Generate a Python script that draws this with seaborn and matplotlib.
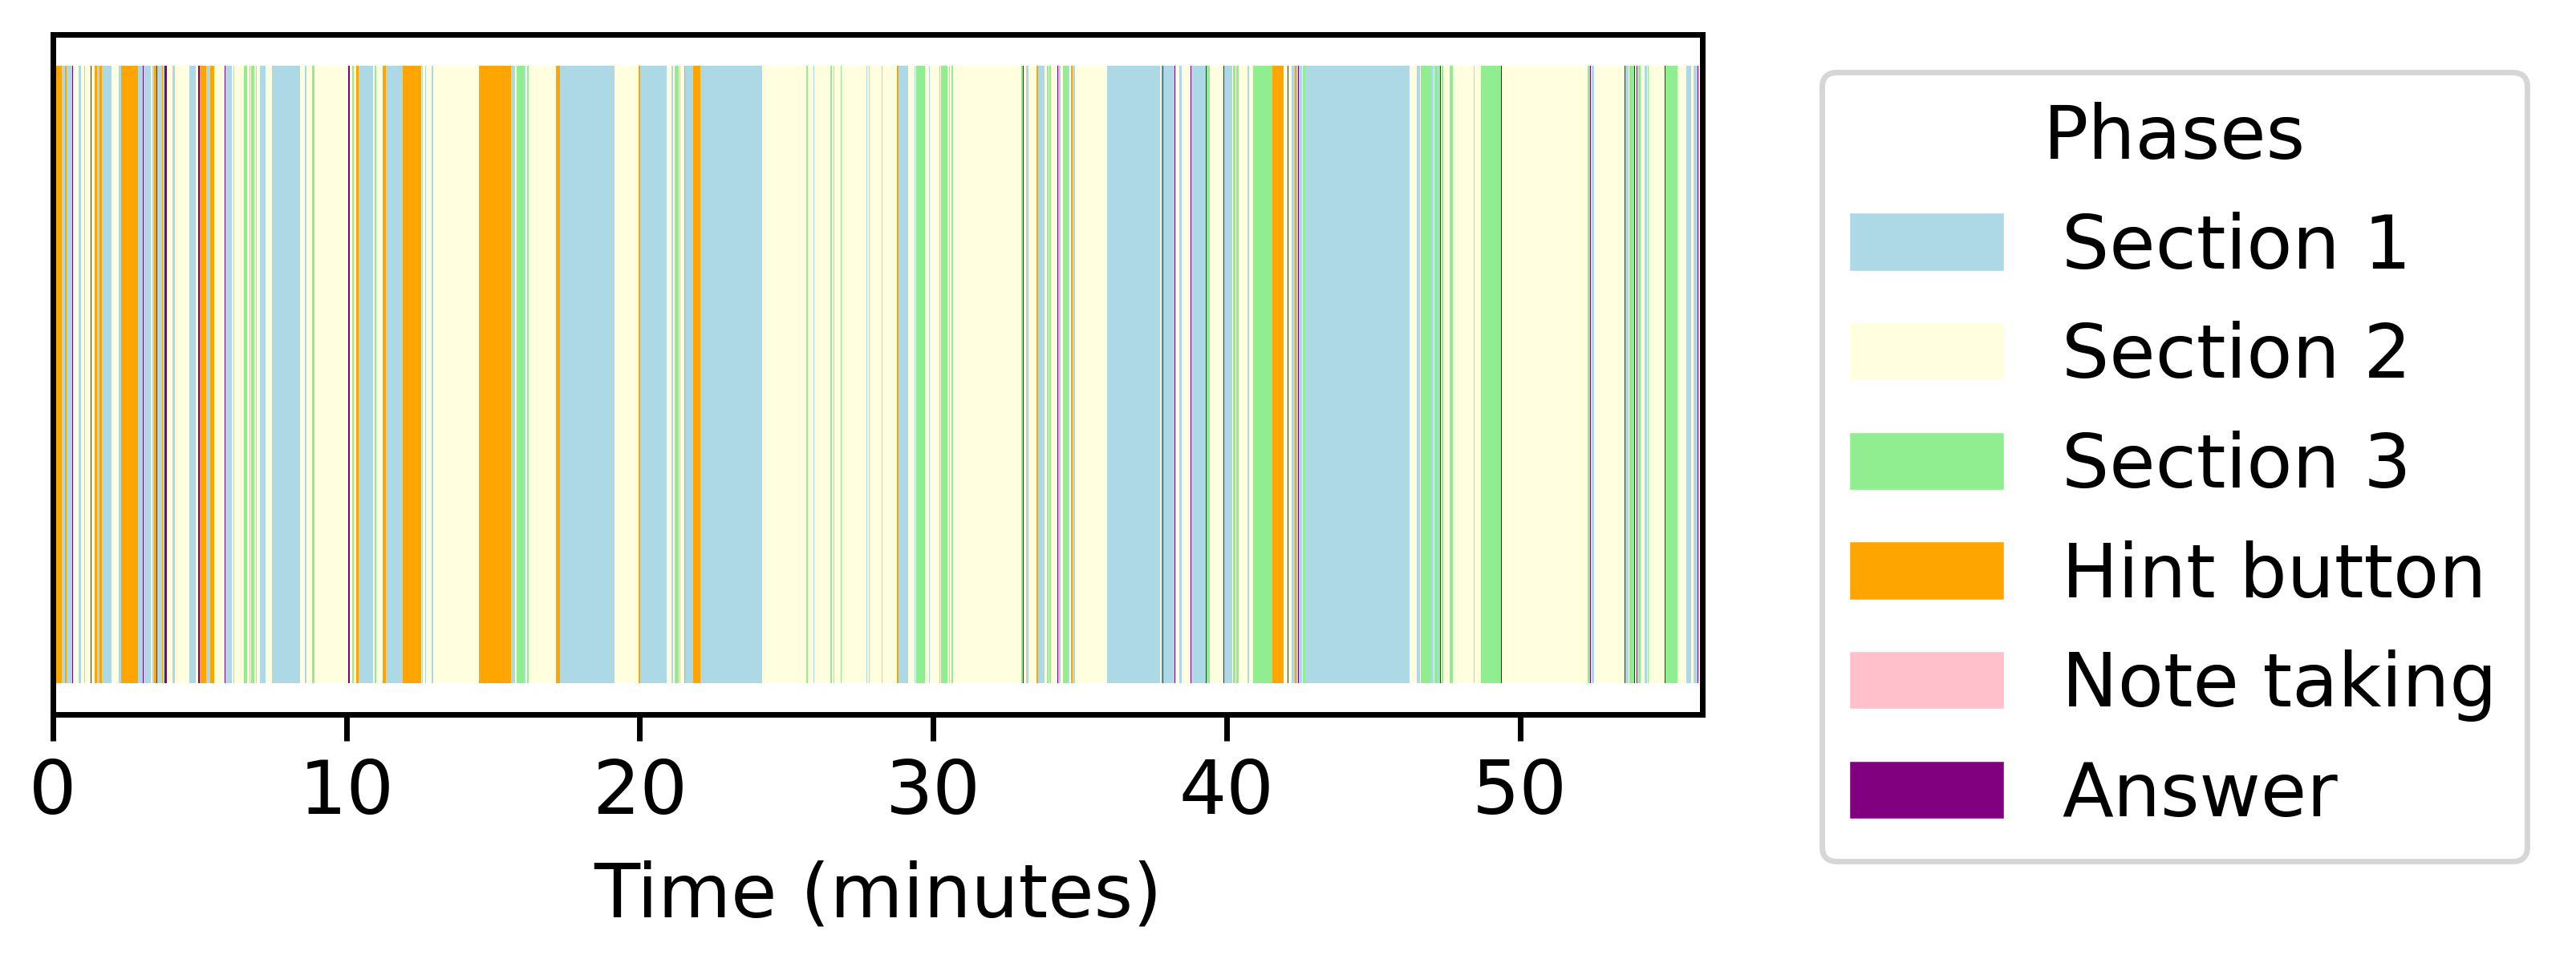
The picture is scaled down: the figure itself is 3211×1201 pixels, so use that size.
import matplotlib
matplotlib.use("Agg")
import matplotlib.pyplot as plt
import matplotlib.patches as mpatches
import numpy as np
import seaborn as sns

# phase legend order, labels and colours
PHASE_CODES = ['S1', 'S2', 'S3', 'H', 'N', 'A']
PHASE_LABELS = ['Section 1', 'Section 2', 'Section 3', 'Hint button', 'Note taking', 'Answer']
PHASE_COLORS = ['lightblue', 'lightyellow', 'lightgreen', 'orange', 'pink', 'purple']

# sequence of visited phases, in order
phase_seq = [
    'H', 'S1', 'H', 'S1', 'A', 'S2', 'S1', 'S2', 'S1', 'S2',
    'A', 'S2', 'H', 'S1', 'H', 'S1', 'S2', 'S1', 'H', 'S1',
    'A', 'S1', 'S2', 'S1', 'H', 'A', 'S1', 'H', 'S1', 'A',
    'S2', 'S1', 'S2', 'S1', 'S2', 'A', 'H', 'S1', 'H', 'S2',
    'A', 'S1', 'S2', 'S1', 'S2', 'S3', 'S2', 'S3', 'S2', 'S3',
    'S2', 'S1', 'S2', 'S1', 'S2', 'S1', 'S2', 'S1', 'S2', 'S3',
    'S2', 'A', 'S2', 'S3', 'S2', 'H', 'S1', 'S2', 'S3', 'S2',
    'H', 'S1', 'H', 'S2', 'S1', 'S2', 'S1', 'S2', 'S1', 'S2',
    'H', 'S1', 'S2', 'S3', 'S1', 'S2', 'S3', 'S2', 'H', 'S1',
    'S2', 'H', 'S1', 'S2', 'S1', 'S2', 'S3', 'S2', 'S1', 'S2',
    'H', 'S1', 'H', 'S1', 'S2', 'S3', 'S2', 'S1', 'S2', 'S3',
    'S2', 'S1', 'S2', 'S3', 'S2', 'S1', 'S2', 'S1', 'S2', 'S1',
    'S2', 'H', 'S1', 'S2', 'S1', 'S2', 'S3', 'S2', 'S1', 'S2',
    'S3', 'S2', 'S3', 'S2', 'S1', 'S2', 'S3', 'S2', 'S3', 'A',
    'S2', 'S1', 'S2', 'H', 'S1', 'S2', 'S3', 'S2', 'S3', 'S2',
    'A', 'S1', 'S2', 'S3', 'S1', 'S2', 'H', 'S1', 'S2', 'S1',
    'S2', 'S1', 'A', 'S1', 'A', 'S2', 'S1', 'S2', 'A', 'S1',
    'A', 'S3', 'S2', 'A', 'S1', 'S2', 'S3', 'S2', 'S3', 'S2',
    'S1', 'S2', 'S3', 'H', 'S2', 'A', 'S2', 'S1', 'H', 'S1',
    'A', 'S1', 'S2', 'S3', 'S1', 'S2', 'S1', 'S2', 'S3', 'S1',
    'S2', 'S3', 'S1', 'S3', 'A', 'S2', 'S3', 'S2', 'S3', 'S2',
    'S1', 'S2', 'S3', 'A', 'S2', 'S3', 'A', 'S2', 'S1', 'S2',
    'A', 'S1', 'S2', 'S3', 'A', 'S2', 'A', 'S2', 'S3', 'S2',
    'S1', 'S2', 'S3', 'S2', 'A', 'S3', 'S2', 'S1', 'S2', 'S1',
    'A', 'S2', 'S3',
]

# duration of each visit (seconds)
duration_sec = [
    18.1, 7.1, 3.3, 11.5, 1.6, 11.5, 4.9, 6.6, 1.6, 10.4,
    2.3, 7.1, 4.9, 4.9, 4.9, 19.8, 14.8, 4.4, 33.4, 9.9,
    1.6, 14.8, 3.3, 4.4, 3.8, 1.6, 9.9, 1.6, 4.4, 4.3,
    12.2, 4.9, 29.6, 12.0, 4.9, 3.3, 13.2, 8.2, 8.2, 21.4,
    1.6, 13.7, 2.8, 1.6, 19.8, 6.6, 4.9, 1.6, 1.6, 6.6,
    3.3, 1.6, 6.6, 11.5, 13.2, 57.6, 9.9, 3.3, 11.5, 4.9,
    69.1, 3.3, 4.9, 3.3, 4.9, 4.9, 29.6, 3.3, 3.3, 13.2,
    6.6, 34.6, 37.9, 1.6, 1.6, 4.9, 1.6, 11.5, 3.3, 92.2,
    65.8, 8.2, 3.3, 14.8, 3.3, 3.3, 3.3, 56.0, 8.2, 111.9,
    49.4, 3.3, 54.3, 9.9, 3.3, 3.3, 8.2, 1.6, 1.6, 8.2,
    1.6, 16.5, 14.8, 125.1, 90.5, 3.3, 11.5, 1.6, 32.9, 3.3,
    3.3, 1.6, 13.2, 1.6, 51.0, 1.6, 3.3, 1.6, 24.7, 1.6,
    29.6, 3.3, 19.8, 13.2, 1.6, 1.6, 18.1, 8.2, 1.6, 19.8,
    1.6, 1.6, 13.2, 3.3, 1.6, 3.3, 3.3, 139.9, 3.3, 1.6,
    4.9, 4.9, 16.5, 3.3, 13.2, 4.9, 3.3, 1.6, 3.3, 13.2,
    1.6, 4.9, 4.9, 9.9, 3.3, 3.3, 3.3, 4.9, 64.2, 108.6,
    1.6, 3.3, 1.6, 23.0, 1.6, 8.2, 4.9, 18.1, 1.6, 29.6,
    1.6, 6.6, 28.0, 1.6, 16.5, 1.6, 4.9, 1.6, 4.9, 18.1,
    3.3, 8.2, 39.5, 23.0, 8.2, 1.6, 6.6, 6.6, 3.3, 3.3,
    1.6, 6.6, 1.6, 4.9, 214.0, 14.8, 6.6, 1.6, 21.4, 4.9,
    1.6, 6.6, 3.3, 1.6, 1.6, 1.6, 3.3, 13.2, 6.6, 41.2,
    1.6, 13.2, 41.2, 1.6, 176.1, 4.9, 1.6, 1.6, 4.9, 62.5,
    1.6, 6.6, 1.6, 9.9, 1.6, 3.3, 1.6, 1.6, 4.9, 8.2,
    4.9, 1.6, 1.6, 32.9, 1.6, 24.7, 18.1, 9.9, 4.9, 8.2,
    1.6, 3.3, 4.9,
]

sns.set_style('ticks', {'axes.edgecolor': 'black', 'xtick.color': 'black',
                        'text.color': 'black', 'axes.labelcolor': 'black'})
plt.rcParams['font.family'] = ['DejaVu Sans']
plt.rcParams['axes.linewidth'] = 1.25

FS = 16.8

color_of = dict(zip(PHASE_CODES, PHASE_COLORS))
dur_min = np.array(duration_sec) / 60.0
starts = np.concatenate([[0], np.cumsum(dur_min)[:-1]])
total = dur_min.sum()

W, H, DPI = 3211, 1201, 400
fig = plt.figure(figsize=(W / DPI, H / DPI), dpi=DPI)
ax = fig.add_axes([66 / W, 1 - 891 / H, (2122 - 66) / W, (891 - 43) / H])

ax.barh(0, dur_min, left=starts, height=1.0,
        color=[color_of[p] for p in phase_seq], linewidth=0)
ax.set_xlim(0, total)
ax.set_yticks([])
ax.set_xlabel('Time (minutes)', fontsize=FS, labelpad=7)
ax.tick_params(axis='x', labelsize=FS, width=1.25, length=6)
for s in ax.spines.values():
    s.set_linewidth(1.25)
    s.set_color('black')

handles = [mpatches.Patch(color=c, label=l) for c, l in zip(PHASE_COLORS, PHASE_LABELS)]
leg = ax.legend(handles=handles, title='Phases', loc='upper left',
                bbox_to_anchor=(1.05, 1), fontsize=FS, title_fontsize=FS,
                frameon=True, fancybox=True)
leg.get_frame().set_linewidth(1.25)
leg.get_frame().set_edgecolor('0.8')

fig.savefig('out.png', dpi=DPI)
